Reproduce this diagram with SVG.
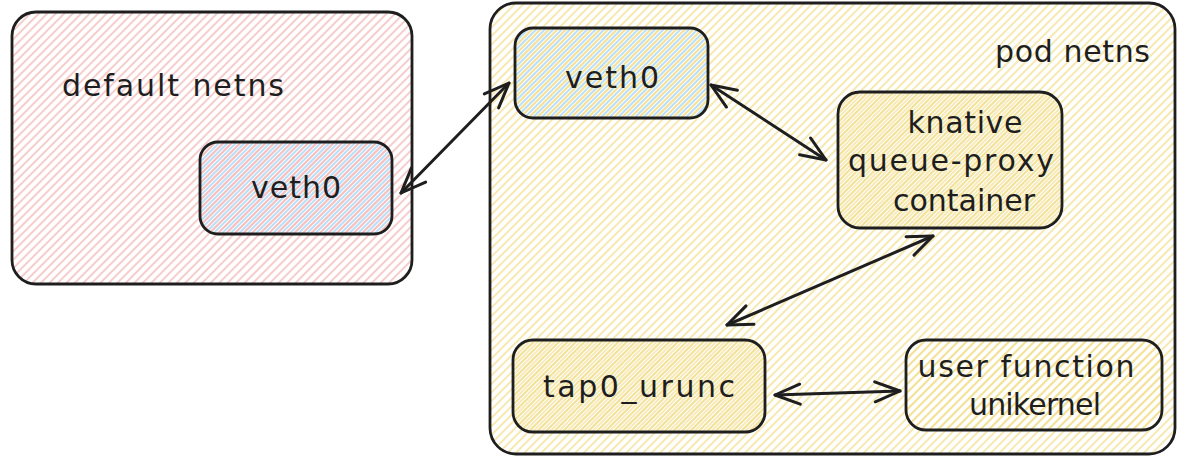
<svg xmlns="http://www.w3.org/2000/svg" width="1178" height="456" viewBox="0 0 1178 456">
<defs>
<pattern id="hPink" width="6" height="6" patternUnits="userSpaceOnUse" patternTransform="rotate(45)"><line x1="1" y1="0" x2="1" y2="6" stroke="#f3bcbc" stroke-width="1.5"/></pattern>
<pattern id="hYellow" width="6" height="6" patternUnits="userSpaceOnUse" patternTransform="rotate(45)"><line x1="1" y1="0" x2="1" y2="6" stroke="#f2df90" stroke-width="1.4"/></pattern>
<pattern id="hYellow2" width="6" height="6" patternUnits="userSpaceOnUse" patternTransform="rotate(45)"><line x1="4" y1="0" x2="4" y2="6" stroke="#f2df90" stroke-width="1.3"/></pattern>
<pattern id="hBlue" width="6" height="6" patternUnits="userSpaceOnUse" patternTransform="rotate(45)"><line x1="4" y1="0" x2="4" y2="6" stroke="#a3d3f5" stroke-width="1.5"/></pattern>
<marker id="ah" viewBox="0 0 30 24" refX="28" refY="12" markerWidth="30" markerHeight="24" markerUnits="userSpaceOnUse" orient="auto-start-reverse"><path d="M3,2 L28,12 L3,22" fill="none" stroke="#1e1e1e" stroke-width="3" stroke-linecap="round" stroke-linejoin="round"/></marker>
</defs>
<style>
.box{stroke:#1e1e1e;stroke-width:2.8}
.under{stroke:none}
.lbl{font-family:"DejaVu Sans",sans-serif;font-size:30px;fill:#1e1e1e}
.mid{text-anchor:middle}
.conn{fill:none;stroke:#1e1e1e;stroke-width:3;stroke-linecap:round}
</style>
<rect width="1178" height="456" fill="#ffffff"/>
<g id="default-netns">
<rect class="box" x="12" y="12" width="400" height="272" rx="24" fill="url(#hPink)"/>
<text class="lbl" x="62" y="96" textLength="222">default netns</text>
</g>
<g id="veth0-default">
<rect class="under" x="200" y="142" width="192" height="92" rx="18" fill="url(#hPink)"/>
<rect class="box" x="200" y="142" width="192" height="92" rx="18" fill="url(#hBlue)"/>
<text class="lbl mid" x="296" y="198" textLength="90">veth0</text>
</g>
<g id="pod-netns">
<rect class="box" x="490" y="3" width="685" height="451" rx="26" fill="url(#hYellow)"/>
<text class="lbl" x="995" y="62" textLength="155">pod netns</text>
</g>
<g id="veth0-pod">
<rect class="under" x="515" y="28" width="193" height="90" rx="18" fill="url(#hYellow)"/>
<rect class="box" x="515" y="28" width="193" height="90" rx="18" fill="url(#hBlue)"/>
<text class="lbl mid" x="612" y="88" textLength="94">veth0</text>
</g>
<g id="knative">
<rect class="under" x="838" y="92" width="224" height="136" rx="22" fill="url(#hYellow)"/>
<rect class="box" x="838" y="92" width="224" height="136" rx="22" fill="url(#hYellow2)"/>
<text class="lbl mid" x="965" y="133" textLength="115">knative</text>
<text class="lbl mid" x="951" y="171" textLength="206">queue-proxy</text>
<text class="lbl mid" x="964" y="211" textLength="142">container</text>
</g>
<g id="tap0">
<rect class="under" x="513" y="340" width="252" height="92" rx="20" fill="url(#hYellow)"/>
<rect class="box" x="513" y="340" width="252" height="92" rx="20" fill="url(#hYellow2)"/>
<text class="lbl mid" x="639" y="397" textLength="192">tap0_urunc</text>
</g>
<g id="user-function">
<rect class="box" x="906" y="340" width="256" height="90" rx="20" fill="url(#hYellow)"/>
<text class="lbl mid" x="1026" y="377" textLength="217">user function</text>
<text class="lbl mid" x="1035" y="415" textLength="132">unikernel</text>
</g>
<g id="connectors">
<path class="conn" d="M401,193 L509,83" marker-start="url(#ah)" marker-end="url(#ah)"/>
<path class="conn" d="M711,85 L826,160" marker-start="url(#ah)" marker-end="url(#ah)"/>
<path class="conn" d="M933,236 L727,325" marker-start="url(#ah)" marker-end="url(#ah)"/>
<path class="conn" d="M775,395 L900,391" marker-start="url(#ah)" marker-end="url(#ah)"/>
</g>
</svg>
